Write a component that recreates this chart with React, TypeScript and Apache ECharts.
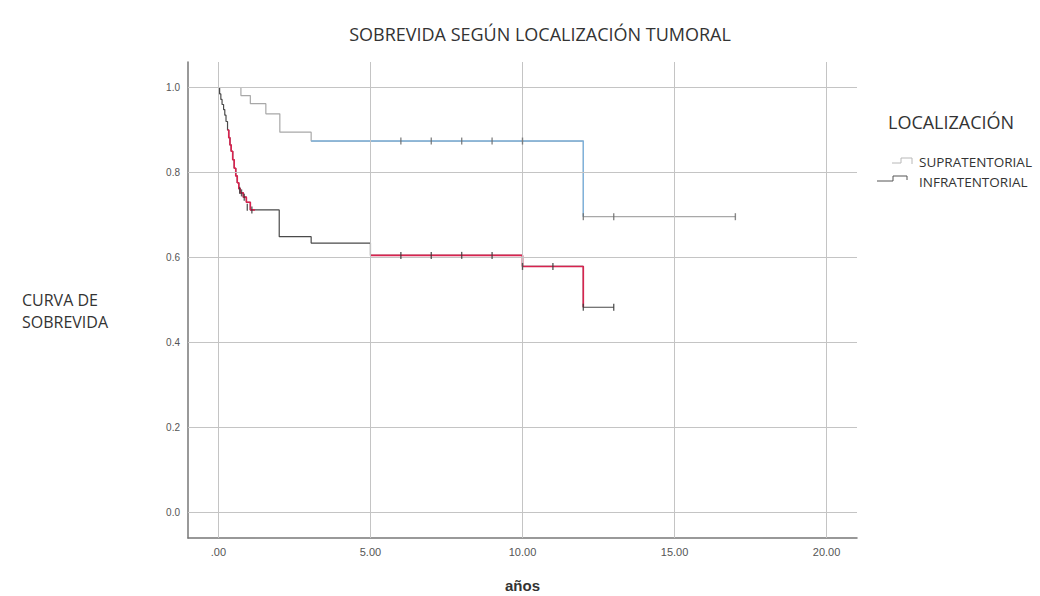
import React, { useEffect, useRef } from "react";
import * as echarts from "echarts";

// Kaplan–Meier survival by tumour location (years vs. survival proportion)
const supraTimes = [0, 0.74, 1.05, 1.56, 2.02, 3.05, 12.0, 17.0];
const supraSurv = [1.0, 0.981, 0.962, 0.938, 0.895, 0.874, 0.696, 0.696];
const supraCensorT = [6, 7, 8, 9, 10, 12, 13, 17];
const supraCensorS = [0.874, 0.874, 0.874, 0.874, 0.874, 0.696, 0.696, 0.696];

const infraTimes = [
  0, 0.04, 0.08, 0.12, 0.17, 0.21, 0.25, 0.3, 0.34, 0.38, 0.42, 0.47, 0.52, 0.57,
  0.62, 0.67, 0.72, 0.82, 0.92, 1.05, 2.0, 3.05, 5.0, 10.0, 12.0, 13.0,
];
const infraSurv = [
  1.0, 0.985, 0.972, 0.96, 0.948, 0.935, 0.92, 0.9, 0.882, 0.865, 0.85, 0.83,
  0.81, 0.792, 0.776, 0.762, 0.752, 0.742, 0.73, 0.712, 0.649, 0.634, 0.605,
  0.579, 0.483, 0.483,
];
const infraCensorT = [0.7, 0.76, 0.85, 0.95, 1.1, 6, 7, 8, 9, 10, 11, 12, 13];
const infraCensorS = [
  0.758, 0.752, 0.742, 0.718, 0.712, 0.605, 0.605, 0.605, 0.605, 0.579, 0.579,
  0.483, 0.483,
];

// Highlighted stretches of each curve (time windows)
const supraHighlight = [3.05, 12.0];
const infraHighlightA = [0.3, 1.2];
const infraHighlightB = [5.0, 12.0];

const xTicks = [0, 5, 10, 15, 20];
const yTicks = [0, 0.2, 0.4, 0.6, 0.8, 1.0];

const legendTitle = "LOCALIZACIÓN";
const seriesNames = ["SUPRATENTORIAL", "INFRATENTORIAL"];

// Build the step path (horizontal then vertical) between event times.
function stepPoints(t: number[], s: number[]): number[][] {
  const pts: number[][] = [];
  for (let i = 0; i < t.length; i++) {
    if (i > 0) pts.push([t[i], s[i - 1]]);
    pts.push([t[i], s[i]]);
  }
  return pts;
}

// Survival value at time x on the step curve.
function survAt(t: number[], s: number[], x: number): number {
  let v = s[0];
  for (let i = 0; i < t.length; i++) if (t[i] <= x) v = s[i];
  return v;
}

// Sub-path of a step curve between two times.
function stepWindow(t: number[], s: number[], a: number, b: number): number[][] {
  const pts: number[][] = [[a, survAt(t, s, a)]];
  for (let i = 0; i < t.length; i++) {
    if (t[i] > a && t[i] <= b) {
      pts.push([t[i], s[i - 1]]);
      pts.push([t[i], s[i]]);
    }
  }
  const last = pts[pts.length - 1];
  if (last[0] < b) pts.push([b, last[1]]);
  return pts;
}

const censorSymbol = "path://M0,0 L1,0 L1,10 L0,10 Z";

export default function App() {
  const ref = useRef<HTMLDivElement>(null);

  useEffect(() => {
    if (!ref.current) return;
    const chart = echarts.init(ref.current, undefined, { renderer: "svg" });
    const font = "'Open Sans', 'Noto Sans', sans-serif";

    const lineSeries = (name: string, data: number[][], color: string, width: number, z: number) => ({
      name,
      type: "line",
      data,
      symbol: "none",
      lineStyle: { color, width },
      z,
      silent: true,
    });

    const censorSeries = (data: number[][], color: string) => ({
      type: "scatter",
      data,
      symbol: censorSymbol,
      symbolSize: [1.4, 7],
      itemStyle: { color },
      z: 6,
      silent: true,
    });

    const zip = (a: number[], b: number[]) => a.map((v, i) => [v, b[i]]);

    chart.setOption({
      animation: false,
      backgroundColor: "#ffffff",
      title: {
        text: "SOBREVIDA SEGÚN LOCALIZACIÓN TUMORAL",
        left: 535,
        top: 18,
        textAlign: "center",
        textStyle: { fontFamily: font, fontSize: 18, lineHeight: 22, fontWeight: "normal", color: "#333" },
      },
      grid: { left: 188, right: 183, top: 62, bottom: 58, outerBoundsMode: "none" },
      xAxis: {
        type: "value",
        min: -1,
        max: 21,
        name: "años",
        nameLocation: "middle",
        nameGap: 40,
        nameTextStyle: { fontFamily: "'Liberation Sans', Arial, sans-serif", fontSize: 15, fontWeight: "bold", color: "#333" },
        axisLine: { show: true, onZero: false, lineStyle: { color: "#777", width: 1.5 } },
        axisTick: { show: false, customValues: xTicks },
        axisLabel: {
          customValues: xTicks,
          margin: 8,
          fontFamily: "'Liberation Sans Narrow', 'Liberation Sans', sans-serif",
          fontSize: 11,
          color: "#555",
          formatter: (v: number) => (v === 0 ? ".00" : v.toFixed(2)),
        },
        splitLine: { show: false },
      },
      yAxis: {
        type: "value",
        min: -0.06,
        max: 1.06,
        axisLine: { show: true, onZero: false, lineStyle: { color: "#777", width: 1.5 } },
        axisTick: { show: false, customValues: yTicks },
        axisLabel: {
          customValues: yTicks,
          margin: 8,
          fontFamily: "'Liberation Sans', sans-serif",
          fontSize: 10,
          color: "#555",
          formatter: (v: number) => v.toFixed(1),
        },
        splitLine: { show: false },
      },
      series: [
        {
          type: "line",
          data: [],
          silent: true,
          markLine: {
            silent: true,
            symbol: "none",
            label: { show: false },
            lineStyle: { color: "#c4c4c4", width: 1, type: "solid" },
            data: [
              ...yTicks.map((v) => ({ yAxis: v })),
              ...xTicks.map((v) => ({ xAxis: v })),
            ],
          },
          z: 1,
        },
        lineSeries(seriesNames[0], stepPoints(supraTimes, supraSurv), "#a8a8a8", 1.2, 3),
        lineSeries(seriesNames[1], stepPoints(infraTimes, infraSurv), "#4a4a4a", 1.2, 3),
        lineSeries("supra-hl", stepWindow(supraTimes, supraSurv, supraHighlight[0], supraHighlight[1]), "#7fb2dc", 1.4, 4),
        lineSeries("infra-hl-a", stepWindow(infraTimes, infraSurv, infraHighlightA[0], infraHighlightA[1]), "#d8234f", 1.6, 4),
        lineSeries("infra-hl-b", stepWindow(infraTimes, infraSurv, infraHighlightB[0], infraHighlightB[1]), "#d8234f", 1.6, 4),
        censorSeries(zip(supraCensorT, supraCensorS), "#6a6a6a"),
        censorSeries(zip(infraCensorT, infraCensorS), "#3a3a3a"),
      ],
      graphic: [
        {
          type: "text",
          left: 22,
          top: 289,
          style: {
            text: "CURVA DE\nSOBREVIDA",
            fontFamily: font,
            fontSize: 16,
            lineHeight: 22,
            fill: "#333",
          },
        },
        {
          type: "text",
          left: 888,
          top: 110,
          style: { text: legendTitle, fontFamily: font, fontSize: 18, lineHeight: 24, fill: "#333" },
        },
        {
          type: "polyline",
          shape: { points: [[892, 163], [901, 163], [901, 158], [912, 158], [912, 164]] },
          style: { stroke: "#b8b8b8", lineWidth: 1, fill: "none" },
        },
        {
          type: "polyline",
          shape: { points: [[877, 181], [893, 181], [893, 176], [907, 176], [907, 180]] },
          style: { stroke: "#555", lineWidth: 1, fill: "none" },
        },
        {
          type: "text",
          left: 919,
          top: 153,
          style: { text: seriesNames[0], fontFamily: font, fontSize: 13.5, lineHeight: 18, fill: "#333" },
        },
        {
          type: "text",
          left: 919,
          top: 173,
          style: { text: seriesNames[1], fontFamily: font, fontSize: 13.5, lineHeight: 18, fill: "#333" },
        },
      ],
    });

    return () => chart.dispose();
  }, []);

  return (
    <div
      ref={ref}
      style={{ position: "fixed", left: 0, top: 0, width: 1040, height: 596 }}
    />
  );
}
